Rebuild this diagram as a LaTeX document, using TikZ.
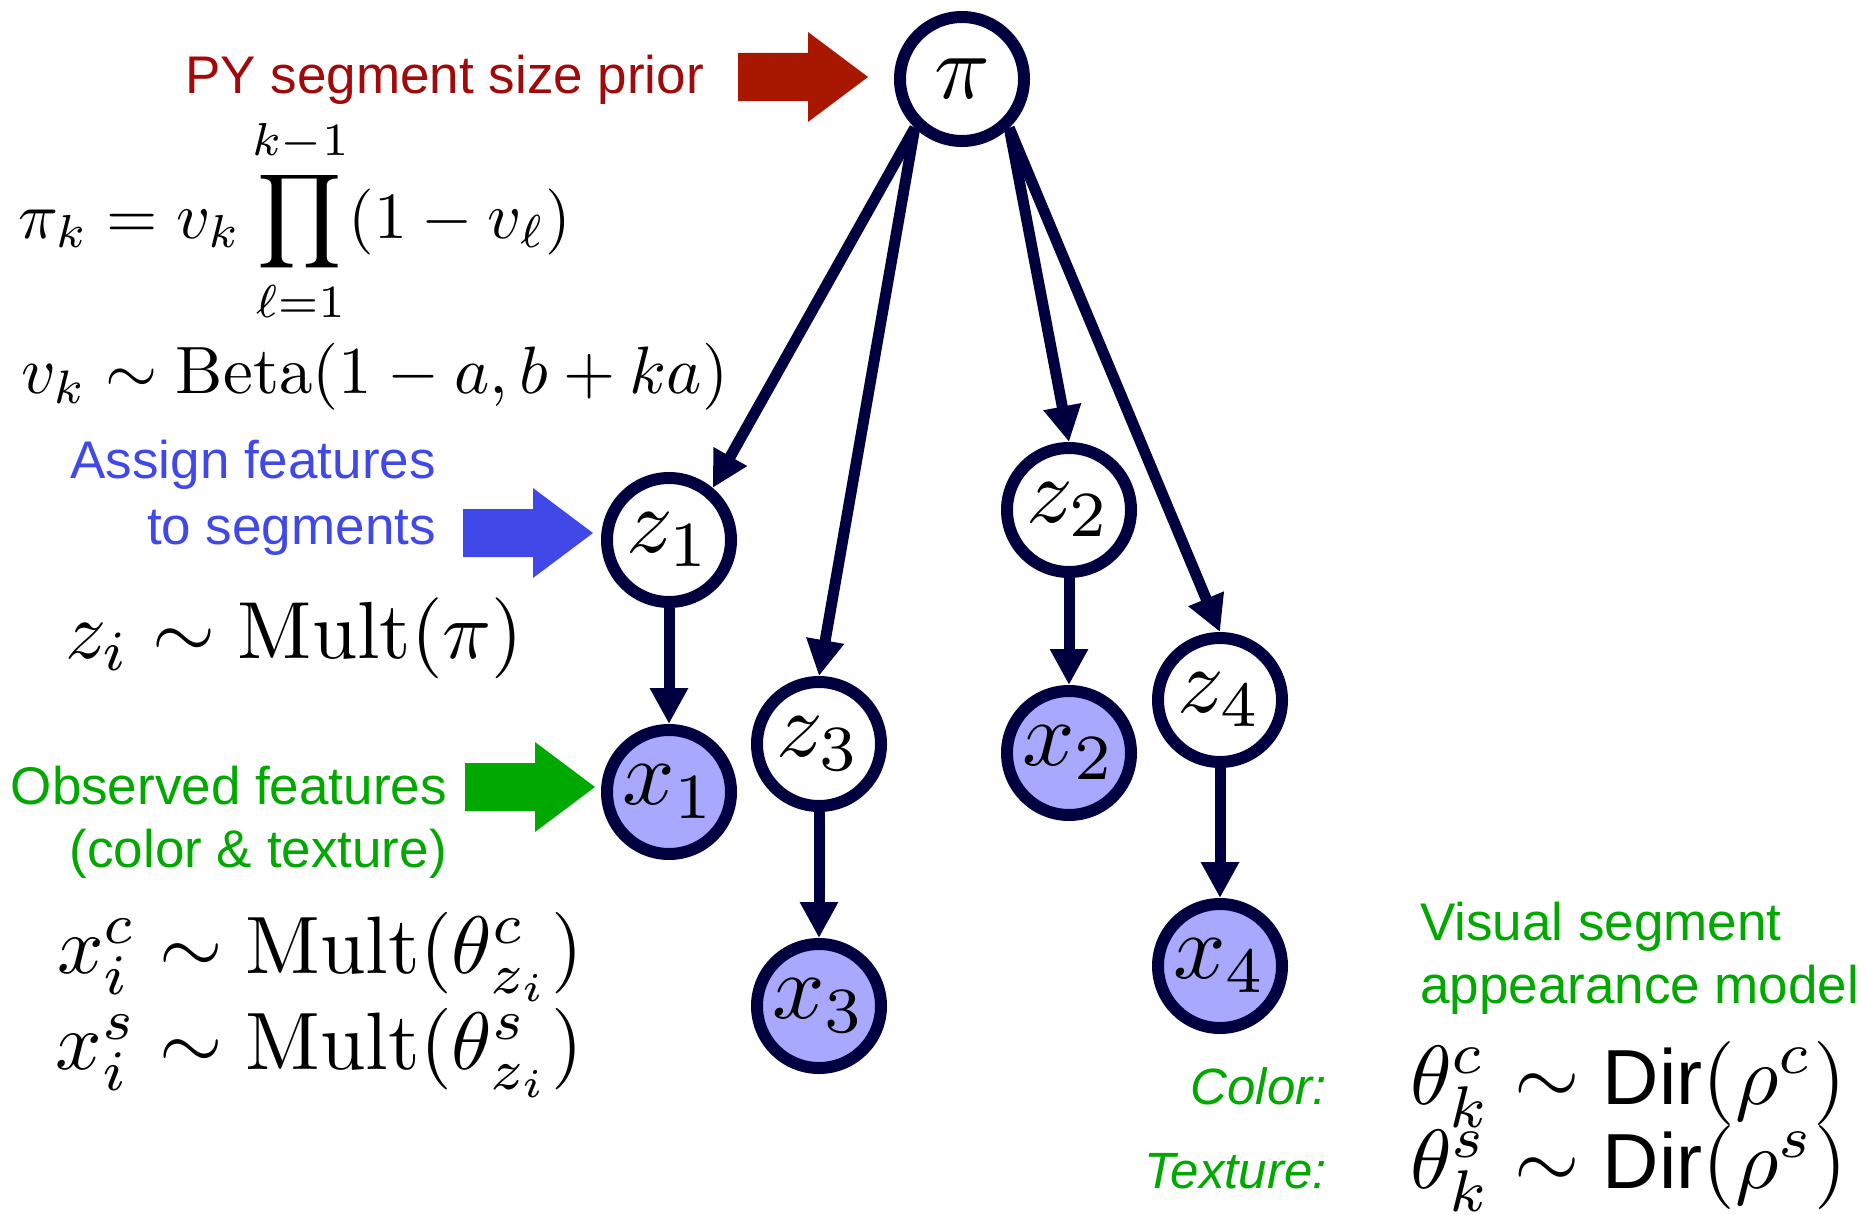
\RequirePackage{fix-cm}
\documentclass[tikz,border=0pt]{standalone}
\usepackage{amsmath}
\usepackage{graphicx}
\usepackage{fontspec}
\newfontfamily\arial{Liberation Sans}
\usetikzlibrary{arrows.meta}
\definecolor{navy}{RGB}{0,0,64}
\definecolor{obsfill}{RGB}{168,168,255}
\definecolor{myred}{RGB}{168,24,0}
\definecolor{myredtext}{RGB}{160,10,10}
\definecolor{myblue}{RGB}{64,72,232}
\definecolor{mygreen}{RGB}{0,168,0}
\newcommand\blockarr[2]{\fill[#1] (#2) -- ++(-60,-45) -- ++(0,21) -- ++(-70,0) -- ++(0,48) -- ++(70,0) -- ++(0,21) -- cycle;}
\newcommand\nm[1]{\scalebox{9.2}{$#1$}}
\newcommand\dirop{\mbox{\arial\fontsize{9.3}{10}\selectfont Dir}}
\begin{document}
\begin{tikzpicture}[x=1pt,y=-1pt,
  latent/.style={circle,draw=navy,line width=12pt,fill=white,minimum size=124pt,inner sep=0pt},
  observed/.style={latent,fill=obsfill},
  edge/.style={draw=navy,line width=11pt,-{Triangle[length=36pt,width=36pt]}},
  lbl/.style={inner sep=0pt,font=\arial\fontsize{53}{60}\selectfont},
  eq/.style={inner sep=0pt}]
\useasboundingbox (0,0) rectangle (1866,1215);
% nodes
\node[latent] (pi) at (962,79) {\nm{\pi}};
\node[latent] (z1) at (669,540) {\nm{z_1}};
\node[latent] (z2) at (1069,510) {\nm{z_2}};
\node[latent] (z3) at (819,744) {\nm{z_3}};
\node[latent] (z4) at (1220,700) {\nm{z_4}};
\node[observed] (x1) at (669,792) {\nm{x_1}};
\node[observed] (x2) at (1069,753) {\nm{x_2}};
\node[observed] (x3) at (819,1006) {\nm{x_3}};
\node[observed] (x4) at (1220,966) {\nm{x_4}};
% edges
\draw[edge] (pi.226) -- (z1.50);
\draw[edge] (pi.226) -- (z3.90);
\draw[edge] (pi.314) -- (z2.90);
\draw[edge] (pi.314) -- (z4.90);
\draw[edge] (z1) -- (x1);
\draw[edge] (z2) -- (x2);
\draw[edge] (z3) -- (x3);
\draw[edge] (z4) -- (x4);
% block arrows
\coordinate (redtip) at (868,77);
\coordinate (bluetip) at (593,533);
\coordinate (greentip) at (595,787);
\blockarr{myred}{redtip}
\blockarr{myblue}{bluetip}
\blockarr{mygreen}{greentip}
% labels
\node[lbl,text=myredtext,anchor=base east] (py) at (704,93) {PY segment size prior};
\node[lbl,text=myblue,anchor=base east] (as1) at (436,478) {Assign features};
\node[lbl,text=myblue,anchor=base east] (as2) at (436,544) {to segments};
\node[lbl,text=mygreen,anchor=base east] (ob1) at (447,804) {Observed features};
\node[lbl,text=mygreen,anchor=base east] (ob2) at (447,867) {(color \& texture)};
\node[lbl,text=mygreen,anchor=base west] (vs1) at (1420,940) {Visual segment};
\node[lbl,text=mygreen,anchor=base west] (vs2) at (1420,1003) {appearance model};
\node[lbl,text=mygreen,anchor=base east,font=\arial\itshape\fontsize{51}{60}\selectfont] (col) at (1327,1104) {Color:};
\node[lbl,text=mygreen,anchor=base east,font=\arial\itshape\fontsize{51}{60}\selectfont] (tex) at (1327,1188) {Texture:};
% equations
\node[eq,anchor=base west] (eqpi) at (18,238) {\scalebox{6.6}{$\displaystyle \pi_k = v_k \prod_{\ell=1}^{k-1}(1-v_\ell)$}};
\node[eq,anchor=base west] (eqv) at (21,393) {\scalebox{6.7}{$v_k \sim \mathrm{Beta}(1-a, b+ka)$}};
\node[eq,anchor=base west] (eqz) at (65,658) {\scalebox{8.1}{$z_i \sim \mathrm{Mult}(\pi)$}};
\node[eq,anchor=base east] (eqxc) at (583,973) {\scalebox{8.15}{$x_i^c \sim \mathrm{Mult}(\theta^c_{z_i})$}};
\node[eq,anchor=base east] (eqxs) at (583,1069) {\scalebox{8.15}{$x_i^s \sim \mathrm{Mult}(\theta^s_{z_i})$}};
\node[eq,anchor=base west] (eqtc) at (1410,1104) {\scalebox{8.4}{$\theta_k^c \sim \dirop(\rho^c)$}};
\node[eq,anchor=base west] (eqts) at (1410,1188) {\scalebox{8.4}{$\theta_k^s \sim \dirop(\rho^s)$}};
\end{tikzpicture}
\end{document}
